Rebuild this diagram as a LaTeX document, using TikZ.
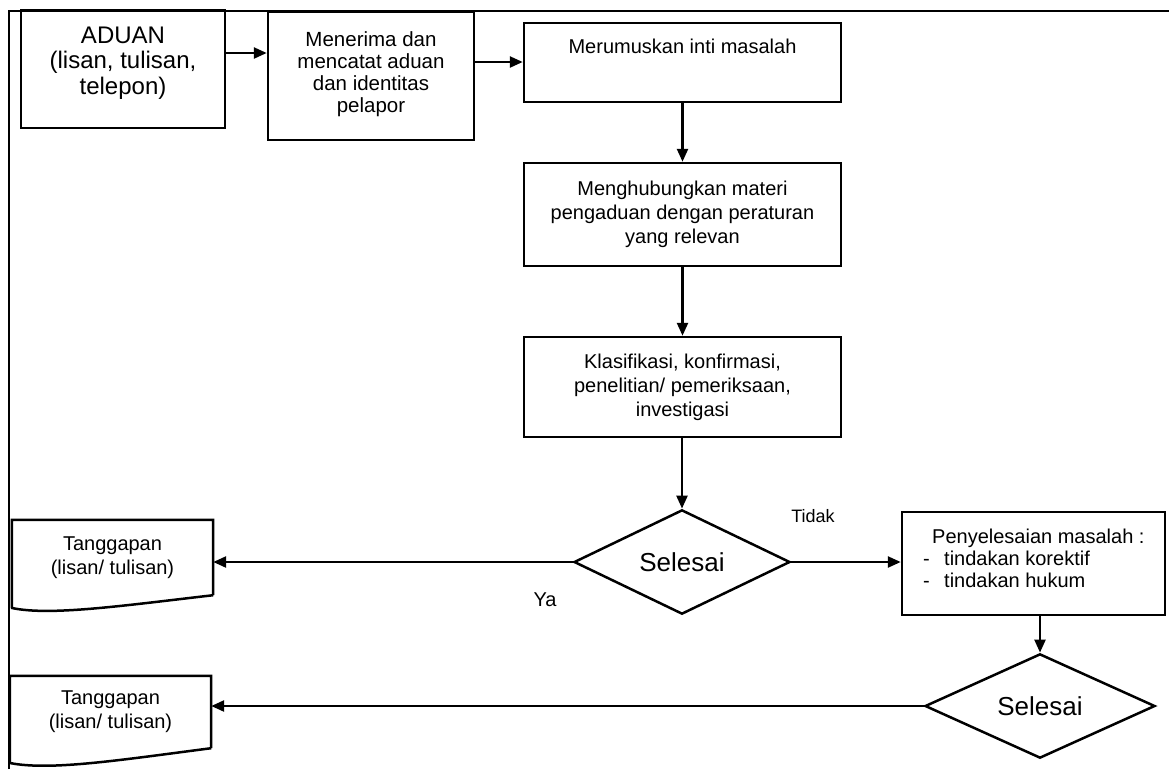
\documentclass[tikz,border=0pt]{standalone}
\usepackage{fontspec}
\setmainfont{Liberation Sans}
\usetikzlibrary{arrows.meta,shapes.geometric}
\begin{document}
\begin{tikzpicture}[x=1pt,y=-1pt,
  box/.style={draw,line width=2.5pt,rectangle,inner sep=0pt},
  txt/.style={align=center,inner sep=0pt,font=\fontsize{20}{24}\selectfont},
  dia/.style={draw,line width=2.5pt,diamond,inner sep=0pt,font=\fontsize{26}{30}\selectfont},
  shapeline/.style={line width=2.5pt,line join=miter},
  arr/.style={line width=2.5pt,-{Triangle[length=13pt,width=11pt]}},
  lbl/.style={inner sep=0pt,font=\fontsize{18}{20}\selectfont}]
\useasboundingbox (0,0) rectangle (1169,769);
% frame
\draw[line width=2.8pt] (9,769) -- (9,11) -- (1169,11);

% boxes
\node[box,minimum width=204pt,minimum height=118pt] (aduan) at (123,69) {};
\node[txt,font=\fontsize{24}{25.5}\selectfont] (aduant) at (123,63) {ADUAN\\(lisan, tulisan,\\telepon)};

\node[box,minimum width=206pt,minimum height=128pt] (menerima) at (371,76) {};
\node[txt,font=\fontsize{20.5}{22}\selectfont] (menerimat) at (371,74) {Menerima dan\\mencatat aduan\\dan identitas\\pelapor};

\node[box,minimum width=317pt,minimum height=79pt] (merumus) at (682.5,62.5) {};
\node[txt] (merumust) at (682.5,46) {Merumuskan inti masalah};

\node[box,txt,minimum width=317pt,minimum height=103pt] (menghub) at (682.5,214.5) {Menghubungkan materi\\pengaduan dengan peraturan\\yang relevan};

\node[box,txt,minimum width=317pt,minimum height=100pt] (klas) at (682.5,387) {Klasifikasi, konfirmasi,\\penelitian/ pemeriksaan,\\investigasi};

\node[dia,minimum width=216pt,minimum height=90pt] (sel1) at (682,562) {Selesai};

\node[box,minimum width=263pt,minimum height=103pt] (peny) at (1033.5,563.5) {};
\node[inner sep=0pt,anchor=west,align=left,font=\fontsize{20}{22}\selectfont] (penyt) at (923,558)
  {\hspace*{9pt}Penyelesaian masalah :\\\makebox[21pt][l]{-}tindakan korektif\\\makebox[21pt][l]{-}tindakan hukum};

\node[dia,minimum width=230pt,minimum height=98pt] (sel2) at (1040,706) {Selesai};

% documents
\node[txt,minimum width=201pt,minimum height=75pt] (doc1) at (112.5,557.5) {Tanggapan\\(lisan/ tulisan)};
\draw[shapeline] (doc1.south east) -- (doc1.north east) -- (doc1.north west) -- (12,608)
  .. controls (50,616) and (120,606) .. (doc1.south east);

\node[txt,minimum width=201pt,minimum height=72pt] (doc2) at (110.5,712) {Tanggapan\\(lisan/ tulisan)};
\draw[shapeline] (doc2.south east) -- (doc2.north east) -- (doc2.north west) -- (10,763)
  .. controls (50,771) and (120,760) .. (doc2.south east);

% connectors
\coordinate (a1) at (0,53);
\coordinate (a2) at (0,62);
\draw[arr] (aduan.east |- a1) -- (menerima.west |- a1);
\draw[arr] (menerima.east |- a2) -- (merumus.west |- a2);
\draw[arr] (merumus.south) -- (menghub.north);
\draw[arr] (menghub.south) -- (klas.north);
\draw[arr] (klas.south -| sel1.north) -- (sel1.north);
\draw[arr] (sel1.west) -- (doc1.east |- sel1.west);
\draw[arr] (sel1.east) -- (peny.west |- sel1.east);
\draw[arr] (peny.south -| sel2.north) -- (sel2.north);
\draw[arr] (sel2.west) -- (doc2.east |- sel2.west);

% labels
\node[lbl] (tidak) at (813,516) {Tidak};
\node[lbl,font=\fontsize{20}{22}\selectfont] (ya) at (545,600) {Ya};
\end{tikzpicture}
\end{document}
